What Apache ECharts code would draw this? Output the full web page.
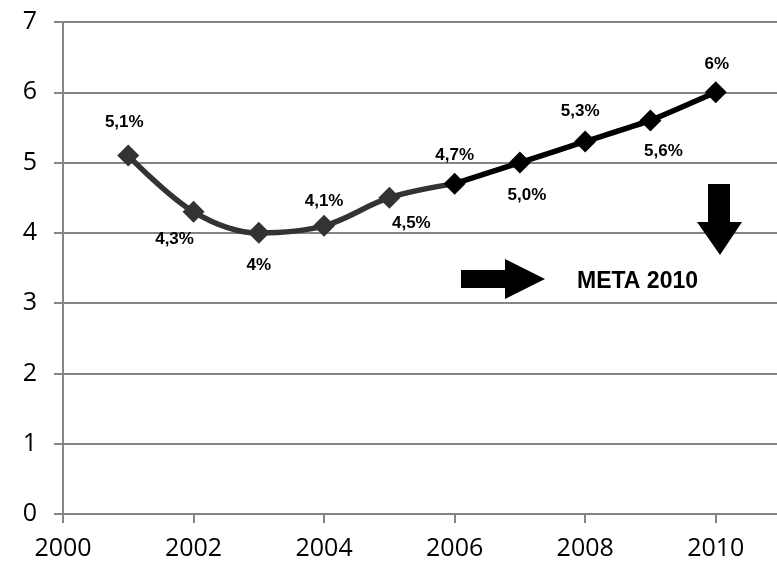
<!DOCTYPE html>
<html>
<head>
<meta charset="utf-8">
<script src="https://cdn.jsdelivr.net/npm/echarts@6/dist/echarts.min.js"></script>
<style>
html,body{margin:0;padding:0;background:#fff;}
#chart{width:777px;height:563px;}
</style>
</head>
<body>
<div id="chart"></div>
<script>
// Yearly rate, split into the historical stretch and the run towards the 2010 goal
const years      = [2001, 2002, 2003, 2004, 2005, 2006, 2007, 2008, 2009, 2010];
const rates      = [5.1, 4.3, 4.0, 4.1, 4.5, 4.7, 5.0, 5.3, 5.6, 6.0];
const rateLabels = ['5,1%', '4,3%', '4%', '4,1%', '4,5%', '4,7%', '5,0%', '5,3%', '5,6%', '6%'];
const splitYear  = 2006;
const yTicks     = [0, 1, 2, 3, 4, 5, 6, 7];
const xTicks     = [2000, 2002, 2004, 2006, 2008, 2010];
const goalText   = 'META 2010';

// label offsets (px) from each marker centre
const labelOffsets = [[-4,-33],[-19,28],[0,32],[0,-25],[22,26],[0,-28],[7,33],[-5,-30],[13,31],[1,-28]];

const labelStyle = {
  show: true, position: 'inside',
  fontFamily: 'Liberation Sans, Arial, sans-serif',
  fontWeight: 'bold', fontSize: 17, color: '#000'
};

function points(from, to) {
  const out = [];
  years.forEach((y, i) => {
    if (y < from || y > to) return;
    out.push({
      value: [y, rates[i]],
      label: Object.assign({}, labelStyle, { offset: labelOffsets[i], formatter: rateLabels[i] })
    });
  });
  return out;
}

// the split year's marker and label belong to the later run
const early = points(years[0], splitYear).map(p =>
  p.value[0] === splitYear ? { value: p.value, symbol: 'none', label: { show: false } } : p
);
const late = points(splitYear, years[years.length - 1]);

const gray = '#858585';
const axisFont = { fontFamily: 'Open Sans, sans-serif', fontSize: 25, color: '#000' };

const chart = echarts.init(document.getElementById('chart'), null, { renderer: 'canvas' });
chart.setOption({
  animation: false,
  backgroundColor: '#fff',
  grid: { left: 63, width: 718, top: 22, bottom: 49, containLabel: false, outerBoundsMode: 'none' },
  xAxis: {
    type: 'value', min: 2000, max: 2011, interval: 2,
    axisLine: { show: true, onZero: false, lineStyle: { color: gray, width: 2 } },
    axisTick: { show: true, length: 9, lineStyle: { color: gray, width: 2 } },
    axisLabel: Object.assign({ margin: 22, showMaxLabel: false,
      formatter: v => xTicks.includes(v) ? String(v) : '' }, axisFont),
    splitLine: { show: false }
  },
  yAxis: {
    type: 'value', min: yTicks[0], max: yTicks[yTicks.length - 1], interval: 1,
    axisLine: { show: true, lineStyle: { color: gray, width: 2 } },
    axisTick: { show: true, inside: false, length: 9, lineStyle: { color: gray, width: 2 } },
    axisLabel: Object.assign({ margin: 26 }, axisFont),
    splitLine: { show: true, lineStyle: { color: gray, width: 2 } }
  },
  series: [
    {
      type: 'line', data: early, smooth: 0.35,
      symbol: 'diamond', symbolSize: 22,
      lineStyle: { color: '#333', width: 5.5 },
      itemStyle: { color: '#333' },
      z: 3
    },
    {
      type: 'line', data: late, smooth: 0.15,
      symbol: 'diamond', symbolSize: 22,
      lineStyle: { color: '#000', width: 5.5 },
      itemStyle: { color: '#000' },
      z: 4
    }
  ],
  graphic: [
    { // arrow pointing at the goal text
      type: 'polygon', z: 10,
      shape: { points: [[461,270],[505,270],[505,259],[545,279],[505,299],[505,288],[461,288]] },
      style: { fill: '#000' }
    },
    { // arrow pointing down from the 2010 point
      type: 'polygon', z: 10,
      shape: { points: [[708,184],[730,184],[730,222],[742,222],[720,255],[697,222],[708,222]] },
      style: { fill: '#000' }
    },
    {
      type: 'text', z: 10, x: 577, y: 282,
      style: { text: goalText, fontFamily: 'Liberation Sans, Arial, sans-serif',
               fontWeight: 'bold', fontSize: 23, fill: '#000', verticalAlign: 'middle' }
    }
  ]
});
</script>
</body>
</html>
